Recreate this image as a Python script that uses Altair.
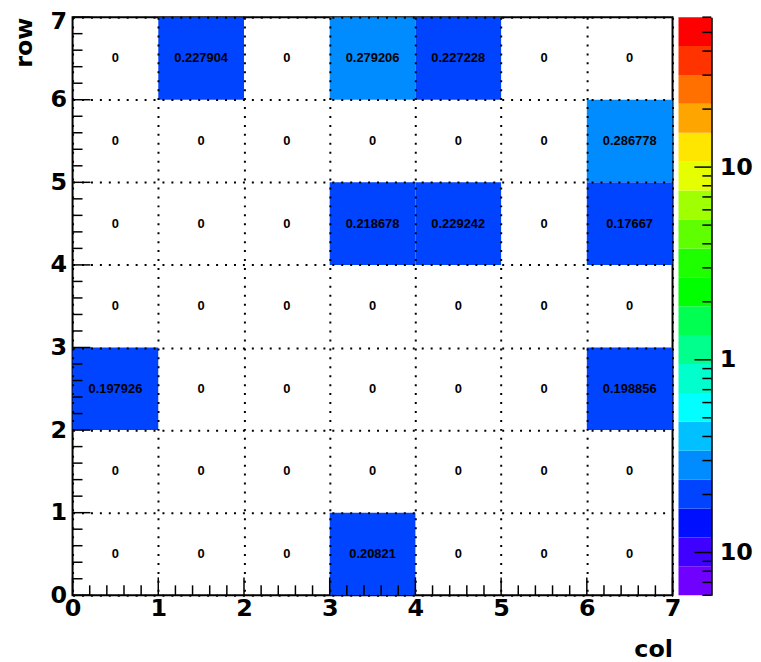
import altair as alt
import pandas as pd
import numpy as np

# ---- data ----
cols = [0, 1, 2, 3, 4, 5, 6]
rows = [0, 1, 2, 3, 4, 5, 6]
row0 = [0, 0, 0, 0.20821, 0, 0, 0]
row1 = [0, 0, 0, 0, 0, 0, 0]
row2 = [0.197926, 0, 0, 0, 0, 0, 0.198856]
row3 = [0, 0, 0, 0, 0, 0, 0]
row4 = [0, 0, 0, 0.218678, 0.229242, 0, 0.17667]
row5 = [0, 0, 0, 0, 0, 0, 0.286778]
row6 = [0, 0.227904, 0, 0.279206, 0.227228, 0, 0]
grid_rows = [row0, row1, row2, row3, row4, row5, row6]

axis_ticks = [0, 1, 2, 3, 4, 5, 6, 7]
minor_ticks = [round(0.2 * i, 1) for i in range(36) if i % 5 != 0]

# colour bar (log z), bottom -> top
z_min, z_max = 0.06, 60.0
palette = ["#7000ff", "#4000ff", "#0010ff", "#0044ff", "#008cff",
           "#00c0ff", "#00ffff", "#00ffcc", "#00ff8c", "#00ff50",
           "#00ff00", "#1eff00", "#60ff00", "#a0ff00", "#e6ff00",
           "#ffe600", "#ffa500", "#ff7000", "#ff3300", "#ff0000"]
bar_major = [0.1, 1, 10]
bar_minor = [0.06, 0.07, 0.08, 0.09, 0.2, 0.3, 0.4, 0.5, 0.6, 0.7, 0.8, 0.9,
             2, 3, 4, 5, 6, 7, 8, 9, 20, 30, 40, 50, 60]

# ---- tables ----
cells = pd.DataFrame([{"col": c, "row": r, "value": grid_rows[r][c]}
                      for r in rows for c in cols])
n_bands = len(palette)
edges = [z_min * (z_max / z_min) ** (i / n_bands) for i in range(n_bands + 1)]
bands = pd.DataFrame({"lo": edges[:-1], "hi": edges[1:],
                      "mid": [np.sqrt(a * b) for a, b in zip(edges[:-1], edges[1:])]})

W, H = 604, 582
BW = 33
FONT = "Liberation Sans"
AXFONT = "DejaVu Sans"

color_scale = alt.Scale(type="threshold", domain=edges[1:-1], range=palette)
x_scale = alt.Scale(domain=[0, 7], nice=False, zero=False)
y_scale = alt.Scale(domain=[0, 7], nice=False, zero=False)

common = dict(values=axis_ticks, format="d", titleAnchor="end",
              titleFont=AXFONT, titleFontSize=24, titleFontWeight="bold",
              labelFont=AXFONT, labelFontSize=24, labelFontWeight="bold",
              labelFlush=False, labelOverlap=False, ticks=False, domain=False,
              grid=True, gridColor="black", gridDash=[2, 7], gridWidth=2,
              gridOpacity=1, zindex=1)
x_axis = alt.Axis(title="col", titlePadding=18, labelPadding=1, **common)
y_axis = alt.Axis(title="row", titlePadding=14, labelPadding=6,
                  labelOffset={"condition": {"test": "datum.value == 7", "value": 4}, "value": 0},
                  **common)

base = alt.Chart(cells)

rects = base.transform_filter("datum.value > 0").transform_calculate(
    col2="datum.col + 1", row2="datum.row + 1"
).mark_rect().encode(
    x=alt.X("col:Q", scale=x_scale, axis=x_axis),
    x2="col2:Q",
    y=alt.Y("row:Q", scale=y_scale, axis=y_axis),
    y2="row2:Q",
    color=alt.Color("value:Q", scale=color_scale, legend=None),
)

texts = base.transform_calculate(
    xc="datum.col + 0.5", yc="datum.row + 0.5"
).mark_text(font=FONT, fontSize=13, fontWeight="bold", color="black").encode(
    x=alt.X("xc:Q", scale=x_scale, axis=x_axis),
    y=alt.Y("yc:Q", scale=y_scale, axis=y_axis),
    text=alt.Text("value:Q", format=".6~g"),
)

xt_minor = alt.Chart(pd.DataFrame({"t": minor_ticks})).mark_rule(color="black", strokeWidth=1.5).encode(
    x=alt.X("t:Q", scale=x_scale, axis=x_axis), y=alt.value(H), y2=alt.value(H - 10))
xt_major = alt.Chart(pd.DataFrame({"t": axis_ticks})).mark_rule(color="black", strokeWidth=1.5).encode(
    x=alt.X("t:Q", scale=x_scale, axis=x_axis), y=alt.value(H), y2=alt.value(H - 18))
yt_minor = alt.Chart(pd.DataFrame({"t": minor_ticks})).mark_rule(color="black", strokeWidth=1.5).encode(
    y=alt.Y("t:Q", scale=y_scale, axis=y_axis), x=alt.value(0), x2=alt.value(10))
yt_major = alt.Chart(pd.DataFrame({"t": axis_ticks})).mark_rule(color="black", strokeWidth=1.5).encode(
    y=alt.Y("t:Q", scale=y_scale, axis=y_axis), x=alt.value(0), x2=alt.value(18))

main = alt.layer(rects, texts, xt_minor, xt_major, yt_minor, yt_major).properties(
    width=W, height=H,
    view=alt.ViewBackground(stroke="black", strokeWidth=2),
)

bar_scale = alt.Scale(type="log", domain=[z_min, z_max], nice=False)
bar_axis = alt.Axis(orient="right", values=bar_major, title=None,
                    labelExpr="datum.value == 1 ? '1' : '10'",
                    labelFont=AXFONT, labelFontSize=24, labelFontWeight="bold",
                    labelPadding=8,
                    ticks=False, domain=True, domainColor="black", domainWidth=2,
                    grid=False, labelFlush=False, labelOverlap=False)

bar_rect = alt.Chart(bands).mark_rect().encode(
    y=alt.Y("lo:Q", scale=bar_scale, axis=bar_axis),
    y2="hi:Q",
    x=alt.value(0), x2=alt.value(BW),
    color=alt.Color("mid:Q", scale=color_scale, legend=None),
)
bt_minor = alt.Chart(pd.DataFrame({"t": bar_minor})).mark_rule(color="black", strokeWidth=1.5).encode(
    y=alt.Y("t:Q", scale=bar_scale, axis=bar_axis), x=alt.value(BW), x2=alt.value(BW - 9))
bt_major = alt.Chart(pd.DataFrame({"t": bar_major})).mark_rule(color="black", strokeWidth=1.5).encode(
    y=alt.Y("t:Q", scale=bar_scale, axis=bar_axis), x=alt.value(BW), x2=alt.value(BW - 17))

bar = alt.layer(bar_rect, bt_minor, bt_major).properties(
    width=BW, height=H,
    view=alt.ViewBackground(strokeWidth=0),
)

chart = alt.hconcat(main, bar, spacing=6, bounds="flush").resolve_scale(
    color="independent"
).properties(
    padding={"left": 3, "top": -2, "right": 0, "bottom": 0},
    background="white",
).configure(font=FONT).configure_view(strokeWidth=0)

chart.save("out.html", embed_options={"renderer": "svg", "actions": False})
